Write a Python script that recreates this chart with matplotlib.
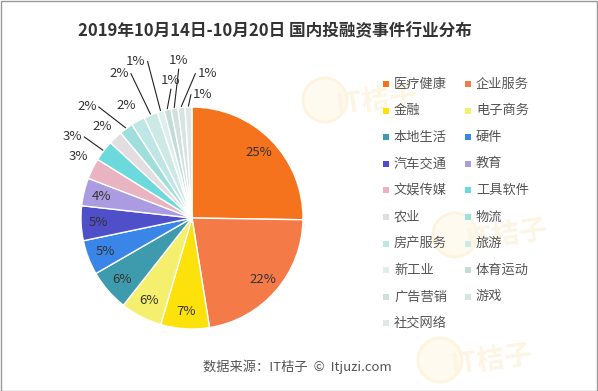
import numpy as np
import matplotlib
matplotlib.use('Agg')
import matplotlib.pyplot as plt
from matplotlib.patches import Rectangle, Ellipse

plt.rcParams['font.family'] = ['Noto Sans CJK SC', 'DejaVu Sans']

TITLE = '2019年10月14日-10月20日 国内投融资事件行业分布'
SOURCE = '数据来源：IT桔子  ©  Itjuzi.com'

industries = ['医疗健康', '企业服务', '金融', '电子商务', '本地生活', '硬件',
              '汽车交通', '教育', '文娱传媒', '工具软件', '农业', '物流',
              '房产服务', '旅游', '新工业', '体育运动', '广告营销', '游戏', '社交网络']
counts = [25, 22, 7, 6, 6, 5, 5, 4, 3, 3, 2, 2, 2, 2, 1, 1, 1, 1, 1]
colors = ['#f5731d', '#f47a48', '#fde10a', '#f4ef6c', '#3e9bad', '#3a86e8',
          '#4f4fc9', '#ab9be0', '#e9b3c1', '#6cdadc', '#e2dde0', '#9fdedb',
          '#bde6e4', '#cde9e6', '#ddeeee', '#c3dcd5', '#d2dfde', '#d6e3df', '#dde7e6']

# label layout for the small slices (pie units): text x, y, ha, draw leader
outer_labels = {
    8: (-1.02, 0.55, 'center', False),
    9: (-0.97, 0.73, 'right', True),
    10: (-0.81, 0.82, 'center', False),
    11: (-0.84, 1.00, 'right', True),
    12: (-0.59, 1.01, 'center', False),
    13: (-0.55, 1.30, 'right', True),
    14: (-0.40, 1.41, 'right', True),
    15: (-0.19, 1.16, 'bottom', True),
    16: (-0.12, 1.34, 'bottom', True),
    17: (0.03, 1.30, 'left', True),
    18: (-0.01, 1.11, 'left', True),
}

W, H = 598, 391
fig = plt.figure(figsize=(W / 100, H / 100), dpi=100)
fig.patch.set_facecolor('white')

# very faint IT桔子 watermarks behind the chart
for wx, wy in [(325, 100), (455, 235), (215, 232), (440, 360)]:
    fig.patches.append(Ellipse((wx / W, (H - wy) / H), 44 / W, 44 / H,
                               transform=fig.transFigure, facecolor='#fffaf0',
                               edgecolor='#fdf3de', lw=2, zorder=-2))
    fig.text((wx + 52) / W, (H - wy) / H, 'IT桔子', ha='center', va='center',
             fontsize=20, fontweight='bold', color='#fdf5e4', rotation=8, zorder=-2)

cx, cy, r = 192, 218, 111
ax = fig.add_axes([(cx - r) / W, (H - cy - r) / H, 2 * r / W, 2 * r / H])
total = sum(counts)
wedges, _ = ax.pie(counts, colors=colors, startangle=90, counterclock=False,
                   radius=1, wedgeprops=dict(edgecolor='white', linewidth=1))
ax.set_xlim(-1, 1)
ax.set_ylim(-1, 1)
ax.set_aspect('equal')
ax.axis('off')

for i, w in enumerate(wedges):
    pct = '%d%%' % round(counts[i] * 100.0 / total)
    mid = np.deg2rad((w.theta1 + w.theta2) / 2)
    if i not in outer_labels:
        ax.text(0.84 * np.cos(mid), 0.84 * np.sin(mid), pct, ha='center', va='center',
                fontsize=9.5, color='#333333')
        continue
    tx, ty, ha, leader = outer_labels[i]
    if leader:
        ax.plot([np.cos(mid) * 1.01, tx], [np.sin(mid) * 1.01, ty], color='#222222',
                lw=0.8, clip_on=False)
    if ha == 'bottom':
        ax.text(tx, ty + 0.02, pct, ha='center', va='bottom', fontsize=9.5, color='#333333')
    elif ha == 'right':
        ax.text(tx - 0.02, ty, pct, ha='right', va='center', fontsize=9.5, color='#333333')
    elif ha == 'left':
        ax.text(tx + 0.02, ty, pct, ha='left', va='center', fontsize=9.5, color='#333333')
    else:
        ax.text(tx, ty, pct, ha='center', va='center', fontsize=9.5, color='#333333')

# legend, two columns
for i, name in enumerate(industries):
    row, col = divmod(i, 2)
    x0 = 383 if col == 0 else 465
    y0 = 84 + row * 26.6
    fig.patches.append(Rectangle((x0 / W, (H - y0 - 3) / H), 6 / W, 6 / H,
                                 transform=fig.transFigure, facecolor=colors[i],
                                 edgecolor='none'))
    fig.text((x0 + 11) / W, (H - y0) / H, name, ha='left', va='center',
             fontsize=9.5, color='#555555')

fig.text(275 / W, (H - 31) / H, TITLE, ha='center', va='center', fontsize=12,
         fontweight='bold', color='#333333')
fig.text(297 / W, (H - 367) / H, SOURCE, ha='center', va='center', fontsize=9.5,
         color='#555555')

fig.patches.append(Rectangle((0.5 / W, 0.5 / H), 1 - 1.5 / W, 1 - 1.5 / H,
                             transform=fig.transFigure, fill=False,
                             edgecolor='#999999', lw=1))

fig.savefig('out.png', dpi=100)
